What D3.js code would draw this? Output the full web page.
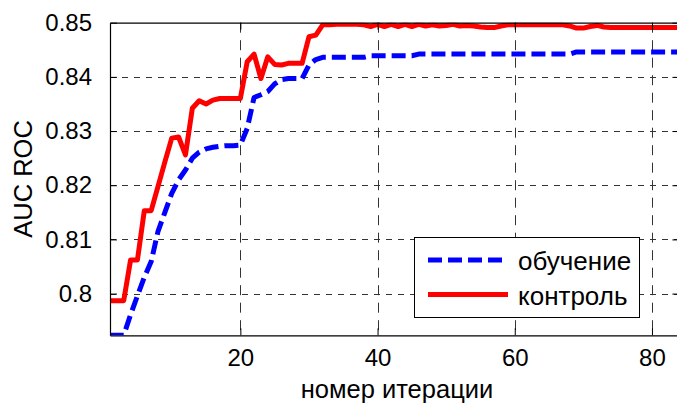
<!DOCTYPE html>
<html>
<head>
<meta charset="utf-8">
<script src="https://cdn.jsdelivr.net/npm/d3@7"></script>
<style>
  html, body { margin: 0; padding: 0; background: #fff; }
  svg { display: block; font-family: "Liberation Sans", Arial, sans-serif; }
</style>
</head>
<body>
<svg id="chart" width="677" height="403"></svg>
<script>
// AUC ROC per boosting iteration: training vs. control sample
const iterations = d3.range(1, 85);

const trainAUC = [
  0.7923, 0.7923, 0.7923, 0.7961, 0.7996, 0.8030, 0.8059, 0.8115, 0.8150, 0.8185,
  0.8210, 0.8228, 0.8250, 0.8261, 0.8267, 0.8270, 0.8272, 0.8273, 0.8273, 0.8274,
  0.8305, 0.8362, 0.8367, 0.8373, 0.8387, 0.8395, 0.8397, 0.8397, 0.8397, 0.8422,
  0.8432, 0.8436, 0.8436, 0.8436, 0.8436, 0.8436, 0.8436, 0.8436, 0.8439, 0.8439,
  0.8439, 0.8439, 0.8439, 0.8439, 0.8439, 0.8442, 0.8442, 0.8442, 0.8442, 0.8442,
  0.8442, 0.8442, 0.8442, 0.8442, 0.8442, 0.8442, 0.8442, 0.8442, 0.8442, 0.8442,
  0.8442, 0.8442, 0.8442, 0.8442, 0.8442, 0.8442, 0.8442, 0.8442, 0.8446, 0.8446,
  0.8446, 0.8446, 0.8446, 0.8446, 0.8446, 0.8446, 0.8446, 0.8446, 0.8446, 0.8446,
  0.8446, 0.8446, 0.8446, 0.8446
];

const controlAUC = [
  0.7987, 0.7987, 0.7987, 0.8062, 0.8062, 0.8153, 0.8153, 0.8198, 0.8243, 0.8287,
  0.8289, 0.8256, 0.8342, 0.8356, 0.8350, 0.8357, 0.8360, 0.8360, 0.8360, 0.8360,
  0.8428, 0.8442, 0.8397, 0.8437, 0.8423, 0.8422, 0.8425, 0.8425, 0.8425, 0.8474,
  0.8477, 0.8496, 0.8496, 0.8497, 0.8497, 0.8497, 0.8497, 0.8496, 0.8493, 0.8497,
  0.8493, 0.8497, 0.8493, 0.8497, 0.8493, 0.8497, 0.8494, 0.8496, 0.8494, 0.8495,
  0.8497, 0.8494, 0.8495, 0.8494, 0.8492, 0.8491, 0.8491, 0.8494, 0.8496, 0.8496,
  0.8496, 0.8496, 0.8496, 0.8496, 0.8496, 0.8496, 0.8496, 0.8494, 0.8490, 0.8490,
  0.8493, 0.8495, 0.8492, 0.8491, 0.8491, 0.8491, 0.8491, 0.8491, 0.8491, 0.8491,
  0.8491, 0.8491, 0.8491, 0.8491
];

const xTicks = [20, 40, 60, 80];
const yTicks = [0.80, 0.81, 0.82, 0.83, 0.84, 0.85];
const yMin = trainAUC[0];
const yMax = 0.85;

const seriesNames = ["обучение", "контроль"];
const xTitle = "номер итерации";
const yTitle = "AUC ROC";

const svg = d3.select("#chart");
const plotL = 110, plotR = 679.4, plotT = 22.7, plotB = 335.3;

const x = d3.scaleLinear().domain([1, 84]).range([plotL, plotR]);
const y = d3.scaleLinear().domain([yMin, yMax]).range([plotB, plotT]);

// grid
const grid = svg.append("g").attr("stroke", "#333").attr("stroke-width", 1);
grid.selectAll("line.h").data(yTicks.filter(v => v < yMax)).join("line")
  .attr("x1", plotL).attr("x2", plotR)
  .attr("y1", d => Math.round(y(d)) + 0.5).attr("y2", d => Math.round(y(d)) + 0.5)
  .attr("stroke-dasharray", "6,6");
grid.selectAll("line.v").data(xTicks).join("line")
  .attr("x1", d => Math.round(x(d)) + 0.5).attr("x2", d => Math.round(x(d)) + 0.5)
  .attr("y1", plotT).attr("y2", plotB)
  .attr("stroke-dasharray", "10,7.5");

// curves
svg.append("defs").append("clipPath").attr("id", "plotClip")
  .append("rect").attr("x", plotL).attr("y", plotT)
  .attr("width", plotR - plotL).attr("height", plotB - plotT);

const line = d3.line().x((d, i) => x(iterations[i])).y(d => y(d));
const curves = svg.append("g").attr("clip-path", "url(#plotClip)")
  .attr("fill", "none").attr("stroke-width", 5).attr("stroke-linejoin", "round");
curves.append("path").datum(trainAUC).attr("d", line)
  .attr("stroke", "#0000ff").attr("stroke-dasharray", "14,6");
curves.append("path").datum(controlAUC).attr("d", line)
  .attr("stroke", "#ff0000");

// axes with inward ticks
const xAxis = d3.axisBottom(x).tickValues(xTicks).tickSizeInner(-7).tickSizeOuter(0).tickPadding(14);
const gx = svg.append("g").attr("transform", `translate(0,${plotB})`).call(xAxis);
gx.selectAll("text").attr("font-size", 24).attr("fill", "#000").attr("font-family", "Liberation Sans, Arial, sans-serif");

const xTop = d3.axisTop(x).tickValues(xTicks).tickSizeInner(-7).tickSizeOuter(0).tickFormat("");
svg.append("g").attr("transform", `translate(0,${plotT})`).call(xTop);

const yAxis = d3.axisLeft(y).tickValues(yTicks).tickSizeInner(-7).tickSizeOuter(0)
  .tickPadding(18).tickFormat(d => d3.format(".2~f")(d));
const gy = svg.append("g").attr("transform", `translate(${plotL},0)`).call(yAxis);
gy.selectAll("text").attr("font-size", 24).attr("fill", "#000").attr("font-family", "Liberation Sans, Arial, sans-serif");

const yRight = d3.axisRight(y).tickValues(yTicks).tickSizeInner(-7).tickSizeOuter(0).tickFormat("");
svg.append("g").attr("transform", `translate(${plotR},0)`).call(yRight);

svg.selectAll(".domain").attr("stroke", "#000").attr("stroke-width", 1.2);
svg.selectAll(".tick line").attr("stroke", "#000");

// axis titles
svg.append("text").attr("x", 397).attr("y", 398)
  .attr("text-anchor", "middle").attr("font-size", 25.5).text(xTitle);
svg.append("text").attr("transform", `translate(32,${(plotT + plotB) / 2}) rotate(-90)`)
  .attr("text-anchor", "middle").attr("font-size", 25.5).text(yTitle);

// legend
const lg = svg.append("g");
lg.append("rect").attr("x", 414.5).attr("y", 237.5).attr("width", 225).attr("height", 80)
  .attr("fill", "#fff").attr("stroke", "#000").attr("stroke-width", 1);
const legendItems = [
  { name: seriesNames[0], color: "#0000ff", dash: "14,6", y: 260 },
  { name: seriesNames[1], color: "#ff0000", dash: null, y: 294.5 }
];
legendItems.forEach(it => {
  lg.append("line").attr("x1", 428).attr("x2", 508).attr("y1", it.y).attr("y2", it.y)
    .attr("stroke", it.color).attr("stroke-width", 5)
    .attr("stroke-dasharray", it.dash);
  lg.append("text").attr("x", 518).attr("y", it.y + 10).attr("font-size", 26).text(it.name);
});
</script>
</body>
</html>
